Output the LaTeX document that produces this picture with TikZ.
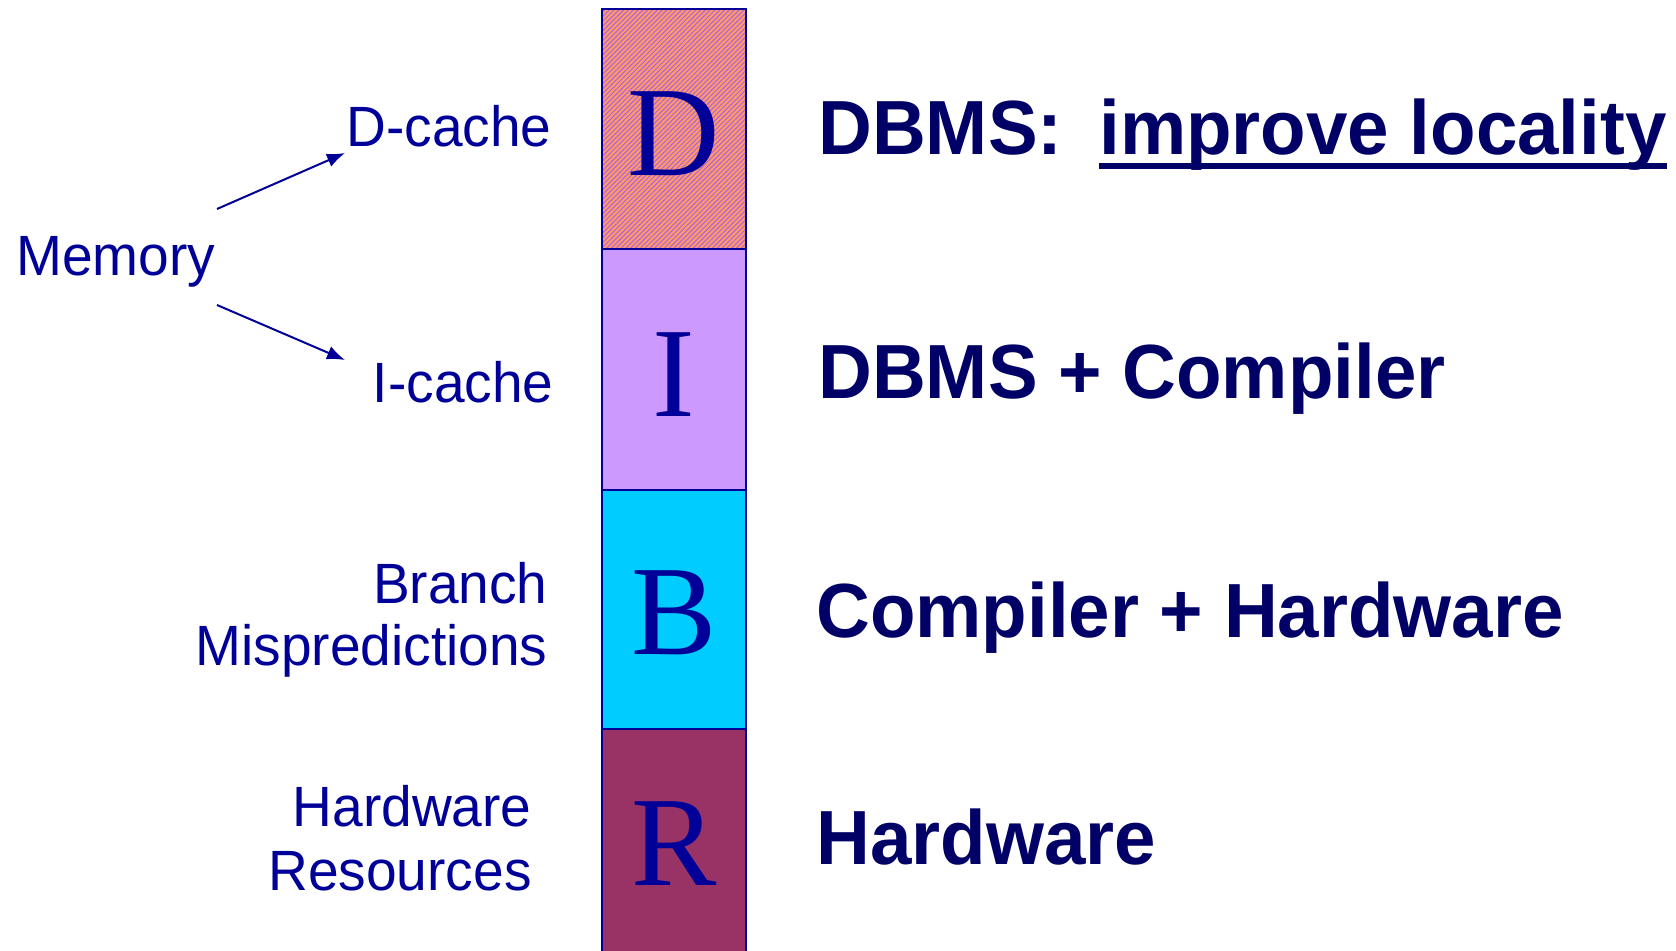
\documentclass[tikz,border=0pt]{standalone}
\usepackage{fontspec}
\setmainfont{Liberation Sans}[FakeStretch=0.97, BoldFeatures={FakeStretch=0.97}]
\newfontfamily\serifletters{Liberation Serif}
\usetikzlibrary{patterns.meta,arrows.meta}
\definecolor{navy}{HTML}{000099}
\definecolor{deepnavy}{HTML}{000066}
\definecolor{dfill}{HTML}{FF9966}
\definecolor{dstripe}{HTML}{AA60E8}
\definecolor{ifill}{HTML}{CC99FF}
\definecolor{bfill}{HTML}{00CCFF}
\definecolor{rfill}{HTML}{993366}
\begin{document}
\begin{tikzpicture}[x=0.5pt,y=-0.5pt,
  block/.style={draw=navy, line width=1.2pt},
  letter/.style={font=\serifletters\fontsize{64}{64}\selectfont, text=navy, inner sep=0pt, anchor=base},
  cause/.style={font=\fontsize{28.4}{34}\selectfont, text=navy, inner sep=0pt},
  remedy/.style={font=\bfseries\fontsize{38.4}{46}\selectfont, text=deepnavy, inner sep=0pt, anchor=base west},
  link/.style={draw=navy, line width=1pt, -{Latex[length=9pt,width=7pt]}}]
\useasboundingbox (0,0) rectangle (1676,951);
\clip (0,0) rectangle (1676,951);

% stacked breakdown bar
\fill[dfill] (602,9) rectangle (746,249);
\fill[pattern={Lines[angle=45,distance=1.7pt,line width=0.5pt]}, pattern color=dstripe] (602,9) rectangle (746,249);
\draw[block] (602,9) rectangle (746,249);
\draw[block, fill=ifill] (602,249) rectangle (746,490);
\draw[block, fill=bfill] (602,490) rectangle (746,729);
\draw[block, fill=rfill] (602,729) rectangle (746,980);

\node[letter] (D) at (674,176) {D};
\node[letter] (I) at (674,417) {I};
\node[letter] (B) at (674,654) {B};
\node[letter] (R) at (674,885) {R};

% causes
\node[cause, anchor=base west] (memory) at (16,276) {Memory};
\node[cause, anchor=base east] (dcache) at (552,147) {D-cache};
\node[cause, anchor=base east] (icache) at (554,403) {I-cache};
\node[cause, anchor=base east] (branch) at (548,604) {Branch};
\node[cause, anchor=base east] (mispred) at (548,666) {Mispredictions};
\node[cause, anchor=base east] (hwres) at (532,826) {Hardware};
\node[cause, anchor=base east] (resources) at (532,890) {Resources};

\coordinate (memup) at (217,209);
\coordinate (memdown) at (217,305);
\coordinate (dcin) at (345,153);
\coordinate (icin) at (345,360);
\draw[link] (memup) -- (dcin);
\draw[link] (memdown) -- (icin);

% remedies
\node[remedy] (dbms) at (818,155) {DBMS:};
\node[remedy] (locality) at (1099,155) {improve locality};
\draw[deepnavy, line width=3pt] ([yshift=-5.5pt]locality.base west) -- ([yshift=-5.5pt]locality.base east);
\node[remedy] (dbmscomp) at (818,399) {DBMS + Compiler};
\node[remedy] (comphw) at (816,638) {Compiler + Hardware};
\node[remedy] (hw) at (816,864) {Hardware};
\end{tikzpicture}
\end{document}
